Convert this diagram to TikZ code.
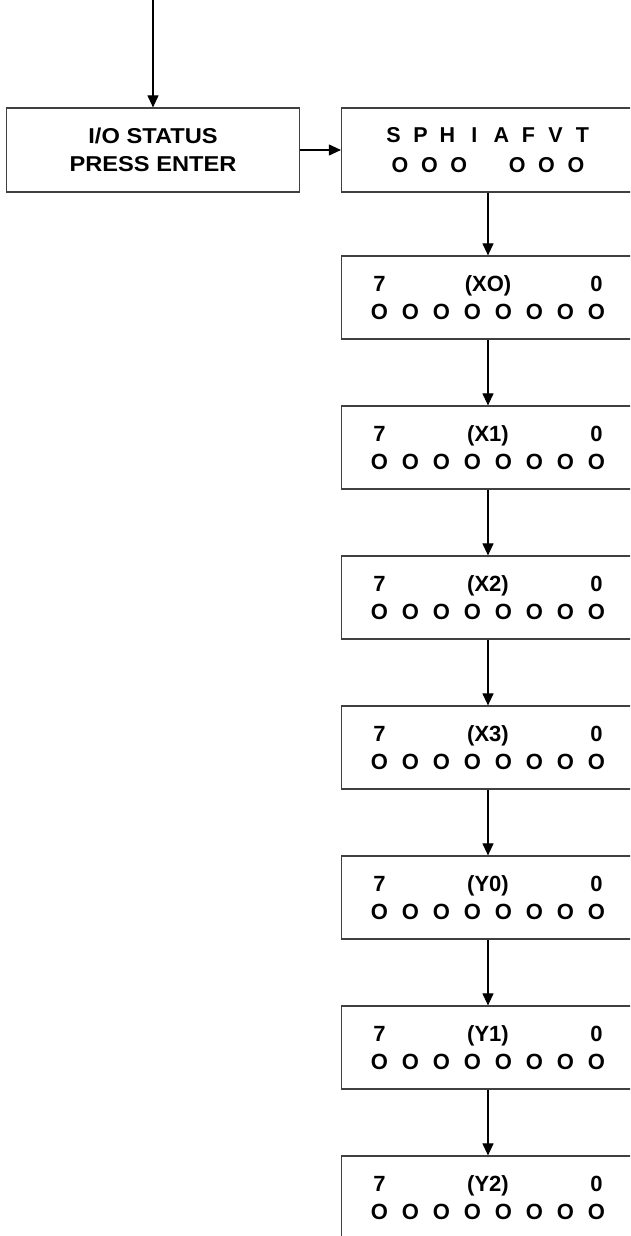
\documentclass[tikz,border=0pt]{standalone}
\usepackage{fontspec}
\setmainfont{Liberation Sans}
\newfontfamily\widefont[FakeStretch=1.1]{Liberation Sans}
\usetikzlibrary{arrows.meta}
\newcommand{\bitO}{\makebox[31pt]{O}}
\newcommand{\bitbox}[1]{\makebox[31pt]{7}\makebox[186pt]{#1}\makebox[31pt]{0}\\
  \bitO\bitO\bitO\bitO\bitO\bitO\bitO\bitO}
\newcommand{\fl}[1]{\makebox[27pt]{#1}}
\newcommand{\fo}[1]{\makebox[29.3pt]{#1}}
\tikzset{
  box/.style={draw=black!75, line width=1.2pt, rectangle, minimum width=293pt,
    inner sep=0pt, align=center, font=\bfseries\fontsize{22}{28.5}\selectfont},
  topbox/.style={box, minimum height=84pt},
  bitsbox/.style={box, minimum height=83pt},
  conn/.style={draw=black, line width=1.1pt, -{Triangle[length=12pt,width=11pt]}}
}
\begin{document}
\begin{tikzpicture}[x=1pt,y=-1pt]
\useasboundingbox (0,0) rectangle (630,1236);
\clip (0,0) rectangle (630,1236);
\coordinate (start) at (153,0);
\node[topbox, font=\bfseries\widefont\fontsize{21.5}{28}\selectfont] (io) at (153,150) {I/O STATUS\\PRESS ENTER};
\node[topbox, font=\bfseries\fontsize{21.5}{29.5}\selectfont] (flags) at (488,150)
  {\fl{S}\fl{P}\fl{H}\fl{I}\fl{A}\fl{F}\fl{V}\fl{T}\\\fo{O}\fo{O}\fo{O}\fo{}\fo{O}\fo{O}\fo{O}};
\node[bitsbox] (x0) at (488,297.5) {\bitbox{(XO)}};
\node[bitsbox] (x1) at (488,447.5) {\bitbox{(X1)}};
\node[bitsbox] (x2) at (488,597.5) {\bitbox{(X2)}};
\node[bitsbox] (x3) at (488,747.5) {\bitbox{(X3)}};
\node[bitsbox] (y0) at (488,897.5) {\bitbox{(Y0)}};
\node[bitsbox] (y1) at (488,1047.5) {\bitbox{(Y1)}};
\node[bitsbox] (y2) at (488,1197.5) {\bitbox{(Y2)}};
\draw[conn] (start) -- (io.north);
\draw[conn] (io.east) -- (flags.west);
\draw[conn] (flags.south) -- (x0.north);
\draw[conn] (x0.south) -- (x1.north);
\draw[conn] (x1.south) -- (x2.north);
\draw[conn] (x2.south) -- (x3.north);
\draw[conn] (x3.south) -- (y0.north);
\draw[conn] (y0.south) -- (y1.north);
\draw[conn] (y1.south) -- (y2.north);
\end{tikzpicture}
\end{document}
